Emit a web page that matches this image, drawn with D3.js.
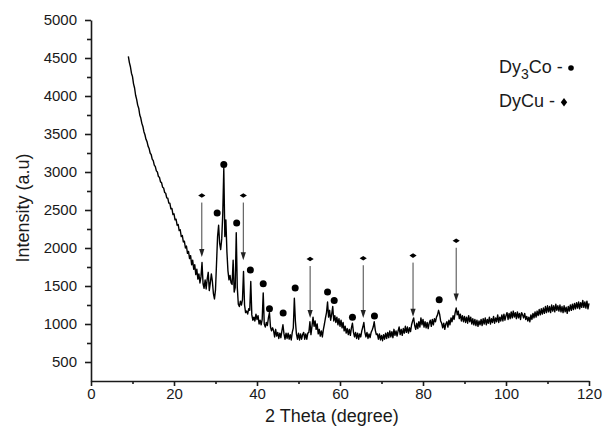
<!DOCTYPE html>
<html>
<head>
<meta charset="utf-8">
<script src="https://cdn.jsdelivr.net/npm/d3@7"></script>
<style>
body { margin: 0; background: #fff; }
svg { display: block; font-family: "Liberation Sans", Arial, sans-serif; }
</style>
</head>
<body>
<svg></svg>
<script>
// scan grid: 9..120 deg, one reading every 0.25 deg
const thetaStart = 9;
const thetaStep = 0.25;

const intensity = [
    4520, 4440, 4385, 4300, 4255, 4160, 4105, 4010, 3955, 3880, 3840, 3750, 3710, 3640, 3600, 3530, 3490, 3430, 3400, 3340,
    3310, 3250, 3230, 3170, 3150, 3090, 3070, 3015, 3000, 2940, 2930, 2870, 2860, 2800, 2790, 2730, 2720, 2660, 2655, 2590,
    2590, 2515, 2520, 2440, 2450, 2370, 2380, 2300, 2310, 2230, 2240, 2150, 2165, 2080, 2090, 2000, 2025, 1930, 1955, 1860,
    1900, 1780, 1840, 1720, 1780, 1650, 1720, 1590, 1660, 1540, 1620, 1810, 1530, 1470, 1580, 1460, 1590, 1680, 1440, 1540,
    1660, 1560, 1400, 1330, 1450, 1800, 2150, 2300, 2060, 1980, 2120, 2450, 3050, 2150, 2370, 1950, 1700, 1580, 1640, 1540,
    1520, 1840, 1420, 1480, 2200, 1480, 1260, 1230, 1300, 1250, 1320, 1690, 1250, 1150, 1170, 1130, 1200, 1180, 1560, 1120,
    1050, 1090, 1040, 1130, 1060, 1110, 1000, 1050, 990, 1060, 1410, 1000, 960, 1020, 980, 1080, 1150, 960, 910, 950,
    910, 830, 930, 840, 890, 810, 880, 820, 910, 990, 870, 800, 880, 810, 880, 800, 860, 790, 890, 950,
    1340, 1040, 870, 800, 880, 790, 870, 800, 860, 890, 800, 870, 800, 880, 890, 1030, 860, 970, 1090, 970,
    1040, 930, 1000, 870, 930, 840, 910, 830, 930, 1000, 1080, 1150, 1290, 1090, 1180, 1050, 1130, 1230, 1040, 1110,
    1020, 1090, 990, 1070, 970, 1050, 950, 1020, 910, 970, 880, 940, 860, 930, 850, 950, 1010, 890, 830, 890,
    810, 880, 800, 870, 830, 910, 960, 1020, 890, 830, 890, 810, 870, 820, 890, 920, 960, 1030, 920, 860,
    870, 800, 870, 790, 850, 780, 860, 800, 880, 810, 890, 820, 910, 830, 900, 820, 930, 850, 910, 840,
    910, 960, 860, 930, 850, 940, 880, 970, 890, 960, 880, 950, 900, 990, 1040, 1080, 980, 930, 1010, 940,
    1030, 960, 1080, 990, 1060, 960, 1030, 950, 1020, 940, 1010, 1050, 970, 1060, 990, 1070, 1030, 1090, 1120, 1180,
    1130, 1040, 1010, 950, 1010, 930, 1000, 1030, 960, 1050, 990, 1080, 1030, 1110, 1060, 1150, 1210, 1120, 1170, 1070,
    1130, 1040, 1110, 1030, 1100, 1020, 1090, 1010, 1110, 1030, 1090, 1000, 1070, 990, 1060, 980, 1050, 970, 1040, 990,
    1060, 980, 1070, 1000, 1080, 990, 1060, 1010, 1090, 1000, 1070, 1020, 1100, 1010, 1080, 1030, 1120, 1020, 1090, 1040,
    1120, 1040, 1130, 1050, 1110, 1150, 1060, 1140, 1070, 1160, 1080, 1170, 1090, 1150, 1070, 1160, 1080, 1140, 1060, 1150,
    1120, 1080, 1140, 1060, 1100, 1040, 1090, 1030, 1120, 1060, 1140, 1080, 1160, 1090, 1170, 1110, 1190, 1120, 1200, 1130,
    1210, 1140, 1230, 1150, 1240, 1160, 1230, 1150, 1250, 1170, 1240, 1160, 1260, 1180, 1240, 1170, 1250, 1160, 1230, 1150,
    1240, 1160, 1220, 1140, 1230, 1170, 1250, 1180, 1260, 1190, 1270, 1200, 1280, 1210, 1290, 1200, 1280, 1220, 1310, 1220,
    1290, 1210, 1300, 1200, 1270
];

// Dy3Co reflections: [2theta, marker level]
const dy3coPeaks = [
    [30.4, 2460], [32.0, 3100], [35.1, 2330], [38.4, 1710], [41.5, 1530], [43.0, 1200],
    [46.3, 1145], [49.2, 1475], [57.0, 1420], [58.6, 1310], [63.0, 1090], [68.3, 1105], [83.9, 1320]
];

// DyCu reflections: [2theta, marker level, arrow tip]
const dycuPeaks = [
    [26.7, 2690, 1880], [36.7, 2690, 1840], [52.8, 1855, 1080],
    [65.6, 1865, 1080], [77.6, 1900, 1095], [88.0, 2095, 1295]
];

const xTicks = [0, 20, 40, 60, 80, 100, 120];
const xMinor = [10, 30, 50, 70, 90, 110];
const yTicks = [500, 1000, 1500, 2000, 2500, 3000, 3500, 4000, 4500, 5000];
const yMinor = [750, 1250, 1750, 2250, 2750, 3250, 3750, 4250, 4750];

const svg = d3.select("svg")
    .attr("width", 603)
    .attr("height", 434);

const margin = { top: 20, left: 91 };
const width = 498;
const height = 361;

const g = svg.append("g")
    .attr("transform", `translate(${margin.left},${margin.top})`);

const x = d3.scaleLinear().domain([0, 120]).range([0, width]);
const y = d3.scaleLinear().domain([250, 5000]).range([height, 0]);

const data = intensity.map((v, i) => ({ t: thetaStart + i * thetaStep, v: v }));

// pattern
g.append("path")
    .datum(data)
    .attr("fill", "none")
    .attr("stroke", "#000")
    .attr("stroke-width", 1.4)
    .attr("stroke-linejoin", "round")
    .attr("d", d3.line().x(d => x(d.t)).y(d => y(d.v)));

// axes
g.append("g")
    .attr("transform", `translate(0,${height})`)
    .call(d3.axisBottom(x).tickValues(xTicks).tickFormat(d3.format("d"))
        .tickSize(5).tickSizeOuter(0).tickPadding(2));
g.append("g")
    .attr("transform", `translate(0,${height})`)
    .call(d3.axisBottom(x).tickValues(xMinor).tickSize(3).tickFormat(""))
    .select(".domain").remove();

g.append("g")
    .call(d3.axisLeft(y).tickValues(yTicks).tickFormat(d3.format("d"))
        .tickSize(6).tickSizeOuter(0).tickPadding(8));
g.append("g")
    .call(d3.axisLeft(y).tickValues(yMinor).tickSize(4).tickFormat(""))
    .select(".domain").remove();

g.selectAll(".domain, .tick line")
    .attr("stroke", "#1a1a1a")
    .attr("stroke-width", 1.6);
g.selectAll(".tick text")
    .attr("fill", "#1a1a1a")
    .style("font-size", "15px")
    .style("font-family", "'Liberation Sans', Arial, sans-serif");

// Dy3Co markers
g.selectAll(".dot")
    .data(dy3coPeaks)
    .enter()
    .append("circle")
    .attr("class", "dot")
    .attr("cx", d => x(d[0]))
    .attr("cy", d => y(d[1]))
    .attr("r", 3.5)
    .attr("fill", "#000");

// DyCu markers with arrows
const cu = g.selectAll(".cu")
    .data(dycuPeaks)
    .enter()
    .append("g")
    .attr("class", "cu");

cu.append("path")
    .attr("d", d => {
        const cx = x(d[0]), cy = y(d[1]);
        return `M${cx - 3.6},${cy}L${cx},${cy - 2.3}L${cx + 3.6},${cy}L${cx},${cy + 2.3}Z`;
    })
    .attr("fill", "#000");

cu.append("line")
    .attr("x1", d => x(d[0]))
    .attr("x2", d => x(d[0]))
    .attr("y1", d => y(d[1]) + 7)
    .attr("y2", d => y(d[2]) - 6)
    .attr("stroke", "#444")
    .attr("stroke-width", 1);

cu.append("path")
    .attr("d", d => {
        const tx = x(d[0]), ty = y(d[2]);
        return `M${tx - 2.6},${ty - 8}L${tx + 2.6},${ty - 8}L${tx},${ty}Z`;
    })
    .attr("fill", "#222");

// axis titles
svg.append("text")
    .attr("x", 332)
    .attr("y", 422)
    .attr("text-anchor", "middle")
    .style("font-size", "18px")
    .attr("fill", "#1a1a1a")
    .text("2 Theta (degree)");

svg.append("text")
    .attr("transform", "translate(29,208) rotate(-90)")
    .attr("text-anchor", "middle")
    .style("font-size", "18px")
    .attr("fill", "#1a1a1a")
    .text("Intensity (a.u)");

// legend
const leg1 = svg.append("text")
    .attr("x", 499)
    .attr("y", 73)
    .style("font-size", "18px")
    .attr("fill", "#1a1a1a");
leg1.append("tspan").text("Dy");
leg1.append("tspan").attr("dy", 6).style("font-size", "14px").text("3");
leg1.append("tspan").attr("dy", -6).text("Co -");
svg.append("circle")
    .attr("cx", 571)
    .attr("cy", 68)
    .attr("r", 2.8)
    .attr("fill", "#000");

svg.append("text")
    .attr("x", 499)
    .attr("y", 107)
    .style("font-size", "18px")
    .attr("fill", "#1a1a1a")
    .text("DyCu -");
svg.append("path")
    .attr("d", "M560.8,102.3L564,98L567.2,102.3L564,106.6Z")
    .attr("fill", "#000");
</script>
</body>
</html>
